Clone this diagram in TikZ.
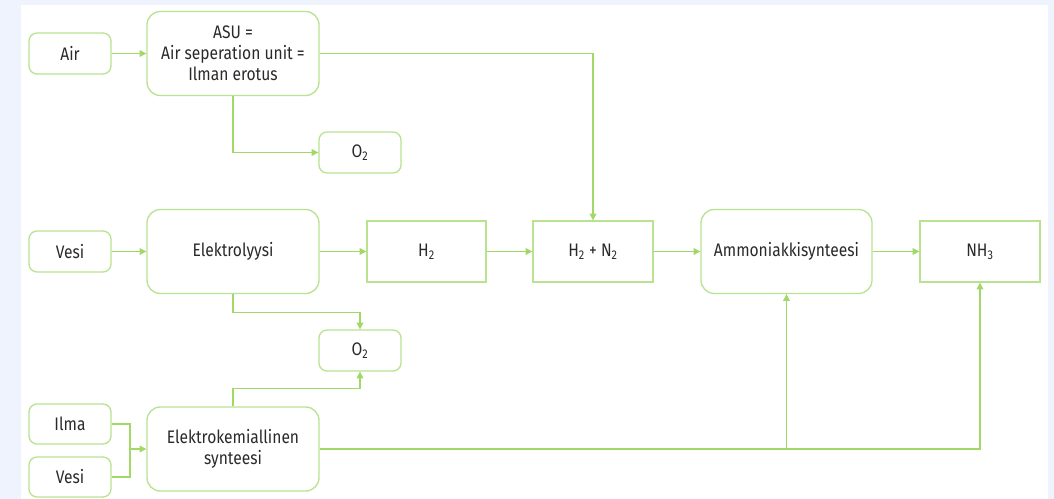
\documentclass[tikz,border=0pt]{standalone}
\usepackage{fontspec}
\setmainfont{Fira Sans}[FakeStretch=0.86]
\usetikzlibrary{arrows.meta}
\definecolor{bgblue}{HTML}{EEF3FD}
\definecolor{boxgreen}{HTML}{B9E291}
\definecolor{linegreen}{HTML}{A2D866}
\definecolor{txt}{HTML}{2A2A2A}
\tikzset{
  rbox/.style={draw=boxgreen, line width=1pt, rounded corners=6pt, fill=white, text=txt, align=center, inner sep=0pt, font=\fontsize{13.6}{15.8}\selectfont},
  sbox/.style={draw=boxgreen, line width=1pt, fill=white, text=txt, align=center, inner sep=0pt, font=\fontsize{13.6}{15.8}\selectfont},
  conn/.style={draw=linegreen, line width=0.8pt, -{Triangle[length=5pt,width=5pt]}},
  plain/.style={draw=linegreen, line width=0.8pt},
}
\begin{document}
\begin{tikzpicture}[x=0.75pt,y=-0.75pt]
\useasboundingbox (0,0) rectangle (1054,499);
\fill[bgblue] (0,0) rectangle (1054,499);
\fill[white] (21,5) rectangle (1048,499);
% nodes
\node[rbox, minimum width=82*0.75pt, minimum height=41*0.75pt] (air) at (70,53.5) {Air};
\node[rbox, rounded corners=10pt, minimum width=172*0.75pt, minimum height=84*0.75pt] (asu) at (233,53.5) {ASU =\\Air seperation unit =\\Ilman erotus};
\node[rbox, minimum width=82*0.75pt, minimum height=41*0.75pt] (o2a) at (360,152.5) {O\textsubscript{2}};
\node[rbox, minimum width=82*0.75pt, minimum height=41*0.75pt] (vesi1) at (70,251.5) {Vesi};
\node[rbox, rounded corners=10pt, minimum width=172*0.75pt, minimum height=84*0.75pt] (elek) at (233,251.5) {Elektrolyysi};
\node[sbox, minimum width=119*0.75pt, minimum height=61*0.75pt] (h2) at (426.5,251.5) {H\textsubscript{2}};
\node[sbox, minimum width=120*0.75pt, minimum height=61*0.75pt] (h2n2) at (593,251.5) {H\textsubscript{2} + N\textsubscript{2}};
\node[rbox, rounded corners=10pt, minimum width=171*0.75pt, minimum height=84*0.75pt] (amm) at (786.5,251.5) {Ammoniakkisynteesi};
\node[sbox, minimum width=120*0.75pt, minimum height=61*0.75pt] (nh3) at (980,251.5) {NH\textsubscript{3}};
\node[rbox, minimum width=82*0.75pt, minimum height=41*0.75pt] (o2b) at (360,350.5) {O\textsubscript{2}};
\node[rbox, minimum width=82*0.75pt, minimum height=40*0.75pt] (ilma) at (70,424) {Ilma};
\node[rbox, minimum width=82*0.75pt, minimum height=40*0.75pt] (vesi2) at (70,477) {Vesi};
\node[rbox, rounded corners=10pt, minimum width=172*0.75pt, minimum height=84*0.75pt] (ekem) at (233,449) {Elektrokemiallinen\\synteesi};
\coordinate (join) at (130,449);
% connectors
\draw[conn] (air) -- (asu);
\draw[conn] (asu.east) -| (h2n2.north);
\draw[conn] (asu.south) |- (o2a.west);
\draw[conn] (vesi1) -- (elek);
\draw[conn] (elek) -- (h2);
\draw[conn] (h2) -- (h2n2);
\draw[conn] (h2n2) -- (amm);
\draw[conn] (amm) -- (nh3);
\draw[conn] (elek.south) -- ++(0,18) -| (o2b.north);
\draw[conn] (ekem.north) -- ++(0,-18) -| (o2b.south);
\draw[plain] (ilma.east) -| (join);
\draw[plain] (vesi2.east) -| (join);
\draw[conn] (join) -- (ekem.west);
\draw[conn] (ekem.east) -| (amm.south);
\draw[conn] (ekem.east) -| (nh3.south);
\end{tikzpicture}
\end{document}
